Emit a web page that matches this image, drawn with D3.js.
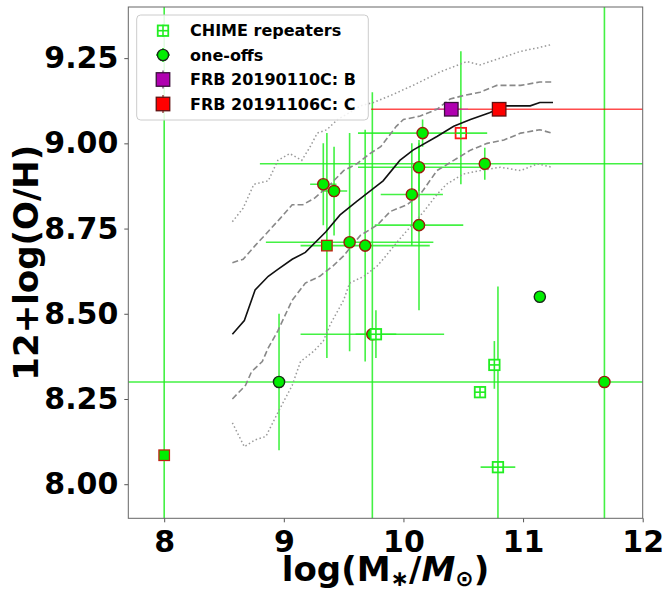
<!DOCTYPE html>
<html>
<head>
<meta charset="utf-8">
<script src="https://cdn.jsdelivr.net/npm/d3@7"></script>
<style>
  body { margin: 0; background: #fff; }
  text { font-family: "DejaVu Sans", sans-serif; font-weight: bold; }
</style>
</head>
<body>
<svg id="chart" width="665" height="597"></svg>
<script>
const xTicks = [8, 9, 10, 11, 12];
const yTicks = [8.0, 8.25, 8.5, 8.75, 9.0, 9.25];
const legendLabels = ["CHIME repeaters", "one-offs", "FRB 20190110C: B", "FRB 20191106C: C"];

// mass-metallicity relation of the comparison sample: [logM, 12+log(O/H)]
const medianLine = [[8.57, 8.44], [8.67, 8.48], [8.76, 8.57], [8.87, 8.61], [8.95, 8.63], [9.07, 8.66],
  [9.18, 8.68], [9.35, 8.74], [9.47, 8.79], [9.61, 8.83], [9.72, 8.86], [9.83, 8.89], [9.97, 8.95],
  [10.08, 8.98], [10.28, 9.02], [10.42, 9.05], [10.56, 9.07], [10.72, 9.09], [10.85, 9.11],
  [11.06, 9.11], [11.14, 9.12], [11.25, 9.12]];
const upperDashed = [[8.57, 8.65], [8.66, 8.66], [8.76, 8.70], [8.84, 8.73], [8.97, 8.78], [9.07, 8.82],
  [9.16, 8.82], [9.26, 8.84], [9.39, 8.88], [9.50, 8.92], [9.61, 8.94], [9.72, 8.97], [9.81, 8.99],
  [9.94, 9.05], [10.00, 9.07], [10.14, 9.08], [10.28, 9.10], [10.39, 9.13], [10.50, 9.14],
  [10.64, 9.15], [10.78, 9.17], [10.98, 9.17], [11.14, 9.18], [11.24, 9.18]];
const lowerDashed = [[8.57, 8.25], [8.68, 8.29], [8.73, 8.33], [8.82, 8.36], [8.87, 8.40], [8.95, 8.45],
  [9.07, 8.54], [9.18, 8.59], [9.30, 8.61], [9.41, 8.64], [9.50, 8.67], [9.64, 8.73], [9.78, 8.76],
  [9.89, 8.80], [10.03, 8.82], [10.14, 8.85], [10.28, 8.92], [10.42, 8.95], [10.56, 8.98],
  [10.70, 9.00], [10.84, 9.01], [10.98, 9.03], [11.14, 9.04], [11.24, 9.03]];
const upperDotted = [[8.57, 8.77], [8.66, 8.81], [8.75, 8.88], [8.87, 8.89], [8.95, 8.95], [9.05, 8.97],
  [9.15, 8.95], [9.22, 8.99], [9.28, 9.03], [9.36, 9.04], [9.45, 9.07], [9.55, 9.09], [9.64, 9.11],
  [9.75, 9.12], [9.89, 9.14], [10.08, 9.17], [10.31, 9.21], [10.53, 9.24], [10.64, 9.23],
  [10.81, 9.25], [10.98, 9.27], [11.12, 9.28], [11.24, 9.29]];
const lowerDotted = [[8.57, 8.18], [8.67, 8.11], [8.76, 8.13], [8.85, 8.14], [8.95, 8.21], [9.07, 8.29],
  [9.14, 8.36], [9.25, 8.39], [9.33, 8.42], [9.39, 8.47], [9.50, 8.54], [9.55, 8.59], [9.67, 8.61],
  [9.78, 8.64], [9.83, 8.66], [9.97, 8.72], [10.17, 8.80], [10.28, 8.85], [10.36, 8.88],
  [10.50, 8.91], [10.64, 8.92], [10.81, 8.93], [10.98, 8.92], [11.12, 8.94], [11.24, 8.93]];

// hosts: logM, 12+log(O/H), errors (low/high), flagged = red-edged marker
const chimeRepeaters = [
  { m: 10.48, oh: 9.03, mLo: 0, mHi: 0, ohLo: 0.15, ohHi: 0.24, flagged: true },
  { m: 9.77, oh: 8.44, mLo: 0.17, mHi: 0.17, ohLo: 0.07, ohHi: 0.07, flagged: false },
  { m: 10.76, oh: 8.35, mLo: 0, mHi: 0, ohLo: 0.07, ohHi: 0.07, flagged: false },
  { m: 10.64, oh: 8.27, mLo: 0, mHi: 0, ohLo: 0, ohHi: 0, flagged: false },
  { m: 10.79, oh: 8.05, mLo: 0.145, mHi: 0.145, ohLo: 0.53, ohHi: 0.53, flagged: false }
];
const otherRepeaters = [
  { m: 8.0, oh: 8.085, mLo: 0, mHi: 0, ohLo: 1.5, ohHi: 1.5 },
  { m: 9.36, oh: 8.70, mLo: 0, mHi: 0, ohLo: 0.33, ohHi: 0.33 }
];
const oneOffs = [
  { m: 10.16, oh: 9.03, mLo: 0.54, mHi: 0.54, ohLo: 0.04, ohHi: 0.04, flagged: true },
  { m: 9.33, oh: 8.88, mLo: 0.11, mHi: 0.11, ohLo: 0.12, ohHi: 0.12, flagged: true },
  { m: 9.42, oh: 8.86, mLo: 0.11, mHi: 0.11, ohLo: 0.13, ohHi: 0.13, flagged: true },
  { m: 10.13, oh: 8.93, mLo: 0.51, mHi: 0.51, ohLo: 0.07, ohHi: 0.07, flagged: true },
  { m: 10.68, oh: 8.94, mLo: 1.88, mHi: 1.88, ohLo: 0.047, ohHi: 0.047, flagged: true },
  { m: 10.07, oh: 8.85, mLo: 0.26, mHi: 0.26, ohLo: 0.15, ohHi: 0.15, flagged: true },
  { m: 10.13, oh: 8.76, mLo: 0.37, mHi: 0.37, ohLo: 0.25, ohHi: 0.25, flagged: true },
  { m: 9.55, oh: 8.71, mLo: 0.70, mHi: 0.70, ohLo: 0.32, ohHi: 0.32, flagged: true },
  { m: 9.68, oh: 8.70, mLo: 0.54, mHi: 0.54, ohLo: 0.34, ohHi: 0.34, flagged: true },
  { m: 9.74, oh: 8.44, mLo: 0.60, mHi: 0.60, ohLo: 0.71, ohHi: 0.71, flagged: true },
  { m: 11.14, oh: 8.55, mLo: 0, mHi: 0, ohLo: 0, ohHi: 0, flagged: false },
  { m: 8.96, oh: 8.30, mLo: 0, mHi: 0, ohLo: 0.20, ohHi: 0.20, flagged: false },
  { m: 11.68, oh: 8.30, mLo: 4.5, mHi: 4.5, ohLo: 1.5, ohHi: 1.5, flagged: true }
];
const frbB = [{ m: 10.40, oh: 9.10, mLo: 0.14, mHi: 0.14, ohLo: 0, ohHi: 0 }];
const frbC = [{ m: 10.80, oh: 9.10, mLo: 1.07, mHi: 1.5, ohLo: 0, ohHi: 0 }];

const svg = d3.select("#chart");
const plotLeft = 128.3, plotRight = 642.7, plotTop = 7, plotBottom = 518.3;

const x = d3.scaleLinear().domain([7.7, 12]).range([plotLeft, plotRight]);
const y = d3.scaleLinear().domain([7.9, 9.4]).range([plotBottom, plotTop]);

svg.append("defs").append("clipPath").attr("id", "plot")
  .append("rect").attr("x", plotLeft).attr("y", plotTop)
  .attr("width", plotRight - plotLeft).attr("height", plotBottom - plotTop);

const plot = svg.append("g").attr("clip-path", "url(#plot)");

const green = "#22ee22";

// error bars
function errorBars(data, color, opacity) {
  const g = plot.append("g").attr("stroke", color).attr("stroke-width", 1.6).attr("stroke-opacity", opacity);
  data.filter(d => d.mLo + d.mHi > 0).forEach(d => {
    g.append("line").attr("x1", x(d.m - d.mLo)).attr("x2", x(d.m + d.mHi)).attr("y1", y(d.oh)).attr("y2", y(d.oh));
  });
  data.filter(d => d.ohLo + d.ohHi > 0).forEach(d => {
    g.append("line").attr("x1", x(d.m)).attr("x2", x(d.m)).attr("y1", y(d.oh - d.ohLo)).attr("y2", y(d.oh + d.ohHi));
  });
}
errorBars(oneOffs, green, 0.85);
errorBars(chimeRepeaters, green, 0.85);
errorBars(otherRepeaters, green, 0.85);
errorBars(frbC, "#ff0000", 0.7);
errorBars(frbB, "#c040c0", 0.6);

// comparison sample curves
const line = d3.line().x(d => x(d[0])).y(d => y(d[1]));
[upperDotted, lowerDotted].forEach(d => {
  plot.append("path").datum(d).attr("d", line).attr("fill", "none")
    .attr("stroke", "#999").attr("stroke-width", 1.5).attr("stroke-dasharray", "1.5,2.5");
});
[upperDashed, lowerDashed].forEach(d => {
  plot.append("path").datum(d).attr("d", line).attr("fill", "none")
    .attr("stroke", "#888").attr("stroke-width", 1.6).attr("stroke-dasharray", "6,3");
});
plot.append("path").datum(medianLine).attr("d", line).attr("fill", "none")
  .attr("stroke", "#111").attr("stroke-width", 1.6);

// markers
function hollowSquare(g, cx, cy, edge) {
  const s = 10.5;
  g.append("rect").attr("x", cx - s / 2).attr("y", cy - s / 2).attr("width", s).attr("height", s)
    .attr("fill", "#fff").attr("stroke", edge).attr("stroke-width", 1.8);
  g.append("line").attr("x1", cx - s / 2).attr("x2", cx + s / 2).attr("y1", cy).attr("y2", cy)
    .attr("stroke", green).attr("stroke-width", 1.6);
  g.append("line").attr("x1", cx).attr("x2", cx).attr("y1", cy - s / 2).attr("y2", cy + s / 2)
    .attr("stroke", green).attr("stroke-width", 1.6);
}
function filledSquare(g, cx, cy, s, fill, edge) {
  g.append("rect").attr("x", cx - s / 2).attr("y", cy - s / 2).attr("width", s).attr("height", s)
    .attr("fill", fill).attr("stroke", edge).attr("stroke-width", 1.3);
}
function circle(g, cx, cy, edge) {
  g.append("circle").attr("cx", cx).attr("cy", cy).attr("r", 5.6)
    .attr("fill", "#00ee00").attr("stroke", edge).attr("stroke-width", 1.4);
}

const marks = plot.append("g");
oneOffs.forEach(d => circle(marks, x(d.m), y(d.oh), d.flagged ? "#9a1c0c" : "#1a2a1a"));
otherRepeaters.forEach(d => filledSquare(marks, x(d.m), y(d.oh), 10.5, "#00ee00", "#c02010"));
chimeRepeaters.forEach(d => hollowSquare(marks, x(d.m), y(d.oh), d.flagged ? "#ff1a1a" : green));
frbB.forEach(d => filledSquare(marks, x(d.m), y(d.oh), 13.5, "#b000b0", "#3a103a"));
frbC.forEach(d => filledSquare(marks, x(d.m), y(d.oh), 13.5, "#ff0000", "#601010"));

// axes
const xAxis = svg.append("g").attr("transform", `translate(0,${plotBottom})`)
  .call(d3.axisBottom(x).tickValues(xTicks).tickFormat(d3.format("d")).tickSize(4).tickPadding(6));
const yAxis = svg.append("g").attr("transform", `translate(${plotLeft},0)`)
  .call(d3.axisLeft(y).tickValues(yTicks).tickFormat(d3.format(".2f")).tickSize(4).tickPadding(6));
[xAxis, yAxis].forEach(a => {
  a.select(".domain").remove();
  a.selectAll(".tick line").attr("stroke", "#555");
  a.selectAll(".tick text").attr("font-size", 30).attr("fill", "#000")
    .attr("font-family", "DejaVu Sans").attr("font-weight", "bold");
});
xAxis.selectAll(".tick text").attr("dy", "0.8em");

svg.append("rect").attr("x", plotLeft).attr("y", plotTop)
  .attr("width", plotRight - plotLeft).attr("height", plotBottom - plotTop)
  .attr("fill", "none").attr("stroke", "#666").attr("stroke-width", 1);

// axis titles
const xt = svg.append("text").attr("x", (plotLeft + plotRight) / 2).attr("y", 581)
  .attr("text-anchor", "middle").attr("font-size", 34);
xt.append("tspan").text("log(M");
xt.append("tspan").text("∗").attr("font-size", 22).attr("dy", 5);
xt.append("tspan").text("/").attr("dy", -5);
xt.append("tspan").text("M").attr("font-style", "italic");
xt.append("tspan").text("⊙").attr("font-size", 22).attr("dy", 5);
xt.append("tspan").text(")").attr("dy", -5);

svg.append("text").attr("transform", `translate(38,${(plotTop + plotBottom) / 2}) rotate(-90)`)
  .attr("text-anchor", "middle").attr("font-size", 34).text("12+log(O/H)");

// legend
const lg = svg.append("g");
lg.append("rect").attr("x", 136.7).attr("y", 15).attr("width", 231.6).attr("height", 105).attr("rx", 4)
  .attr("fill", "#fff").attr("fill-opacity", 0.85).attr("stroke", "#ccc");
const rowY = [30.7, 55, 79.5, 104];
const mx = 163;
legendLabels.forEach((t, i) => {
  lg.append("text").attr("x", 190).attr("y", rowY[i]).attr("dy", "0.36em").attr("font-size", 16).text(t);
});
// legend handles
lg.append("line").attr("x1", mx).attr("x2", mx).attr("y1", rowY[0] - 6).attr("y2", rowY[0] + 6)
  .attr("stroke", green).attr("stroke-width", 1.6);
lg.append("line").attr("x1", mx).attr("x2", mx).attr("y1", rowY[1] - 7).attr("y2", rowY[1] + 7)
  .attr("stroke", green).attr("stroke-width", 1.6);
lg.append("line").attr("x1", mx - 7).attr("x2", mx + 7).attr("y1", rowY[1]).attr("y2", rowY[1])
  .attr("stroke", green).attr("stroke-width", 1.6);
hollowSquare(lg, mx, rowY[0], green);
circle(lg, mx, rowY[1], "#1a2a1a");
lg.append("line").attr("x1", mx).attr("x2", mx).attr("y1", rowY[2] - 9).attr("y2", rowY[2] + 9)
  .attr("stroke", "#702070").attr("stroke-width", 1.2);
filledSquare(lg, mx, rowY[2], 13.5, "#b000b0", "#3a103a");
lg.append("line").attr("x1", mx).attr("x2", mx).attr("y1", rowY[3] - 9).attr("y2", rowY[3] + 9)
  .attr("stroke", "#802020").attr("stroke-width", 1.2);
filledSquare(lg, mx, rowY[3], 13.5, "#ff0000", "#601010");
</script>
</body>
</html>
